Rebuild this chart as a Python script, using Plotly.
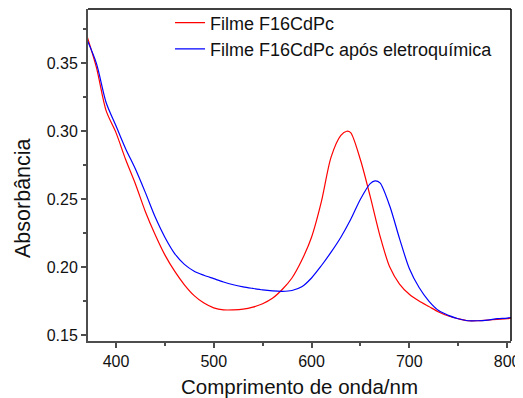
import plotly.graph_objects as go

wl_red = [370, 380, 390, 400, 410, 420, 430, 440, 450, 460, 470, 480, 490, 500, 510, 520, 530, 540, 550,
          560, 570, 580, 590, 600, 610, 620, 630, 636, 640, 650, 660, 670, 680, 690, 700, 710, 720, 730,
          740, 750, 760, 770, 780, 790, 800, 805]
abs_red = [0.371, 0.347, 0.315, 0.299, 0.279, 0.261, 0.241, 0.224, 0.209, 0.197, 0.187, 0.179, 0.1735, 0.170,
           0.1685, 0.1685, 0.169, 0.1705, 0.173, 0.177, 0.1835, 0.192, 0.205, 0.222, 0.248, 0.281, 0.297,
           0.300, 0.299, 0.279, 0.252, 0.223, 0.200, 0.1875, 0.180, 0.175, 0.171, 0.167, 0.164, 0.162,
           0.1605, 0.1605, 0.161, 0.1615, 0.162, 0.1625]

wl_blue = [370, 380, 390, 400, 410, 420, 430, 440, 450, 460, 470, 480, 490, 500, 510, 520, 530, 540, 550,
           560, 570, 580, 590, 600, 610, 620, 630, 640, 650, 660, 665, 670, 680, 690, 700, 710, 720, 730,
           740, 750, 760, 770, 780, 790, 800, 805]
abs_blue = [0.368, 0.350, 0.321, 0.304, 0.287, 0.272, 0.255, 0.237, 0.222, 0.210, 0.202, 0.197, 0.194,
            0.1915, 0.189, 0.187, 0.1855, 0.1843, 0.1832, 0.1825, 0.1822, 0.1828, 0.1855, 0.192, 0.201,
            0.211, 0.222, 0.235, 0.250, 0.2615, 0.2635, 0.262, 0.245, 0.221, 0.199, 0.185, 0.175, 0.168,
            0.1645, 0.162, 0.1605, 0.1605, 0.161, 0.162, 0.1625, 0.163]

name_red = "Filme F16CdPc"
name_blue = "Filme F16CdPc após eletroquímica"

x_ticks = [400, 500, 600, 700, 800]
y_ticks = [0.15, 0.20, 0.25, 0.30, 0.35]

fig = go.Figure()
fig.add_trace(go.Scatter(x=wl_red, y=abs_red, mode="lines", name=name_red,
                         line=dict(color="#ff0000", width=1.2, shape="spline", smoothing=0.8)))
fig.add_trace(go.Scatter(x=wl_blue, y=abs_blue, mode="lines", name=name_blue,
                         line=dict(color="#0000ff", width=1.2, shape="spline", smoothing=0.8)))

font = "Liberation Sans, Arial, sans-serif"
axis_common = dict(showline=True, linecolor="#4d4d4d", linewidth=2, ticks="outside", ticklen=5,
                   tickwidth=1.5, tickcolor="#4d4d4d", showgrid=False, zeroline=False, automargin=False,
                   tickfont=dict(family=font, size=16, color="#111"),
                   minor=dict(ticks="outside", ticklen=3, tickwidth=1.5, tickcolor="#4d4d4d", showgrid=False))

fig.update_xaxes(range=[371.4, 804], tickvals=x_ticks, ticktext=[str(v) for v in x_ticks],
                 minor_dtick=50, minor_tick0=0,
                 title=dict(text="Comprimento de onda/nm", font=dict(family=font, size=20.5, color="#111")),
                 **axis_common)
fig.update_yaxes(range=[0.1456, 0.390], tickvals=y_ticks, ticktext=["%.2f" % v for v in y_ticks],
                 minor_dtick=0.025, minor_tick0=0, **axis_common)

fig.add_annotation(text="Absorbância", xref="paper", yref="paper", x=-0.1537, y=0.4307,
                   xanchor="center", yanchor="middle", textangle=-90, showarrow=False,
                   font=dict(family=font, size=21.5, color="#111"))

fig.add_shape(type="line", xref="paper", yref="paper", x0=0, x1=1, y0=1, y1=1,
              line=dict(color="black", width=1.5))
fig.add_shape(type="line", xref="paper", yref="paper", x0=1, x1=1, y0=0, y1=1,
              line=dict(color="black", width=1.5))

# page body has an 8px margin, so the figure is sized/margined to compensate
fig.update_layout(width=515, height=390, margin=dict(l=80, r=12, t=1, b=57, autoexpand=False),
                  plot_bgcolor="white", paper_bgcolor="white",
                  legend=dict(x=0.1939, y=1.014, xanchor="left", yanchor="top", bgcolor="rgba(0,0,0,0)",
                              font=dict(family=font, size=18, color="#111"), tracegroupgap=0))

fig.write_html("out.html")
